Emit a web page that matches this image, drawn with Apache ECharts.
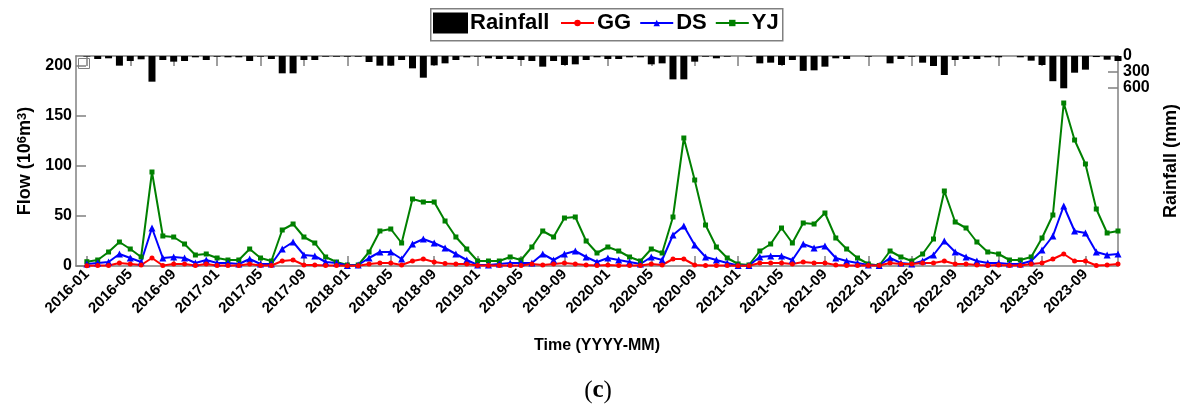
<!DOCTYPE html>
<html><head><meta charset="utf-8">
<script src="https://cdn.jsdelivr.net/npm/echarts@6/dist/echarts.min.js"></script>
<style>html,body{margin:0;padding:0;background:#fff}#c{width:1183px;height:407px}</style>
</head><body><div id="c"></div>
<script>
const months = [
'2016-01','2016-02','2016-03','2016-04','2016-05','2016-06','2016-07','2016-08','2016-09','2016-10','2016-11','2016-12',
'2017-01','2017-02','2017-03','2017-04','2017-05','2017-06','2017-07','2017-08','2017-09','2017-10','2017-11','2017-12',
'2018-01','2018-02','2018-03','2018-04','2018-05','2018-06','2018-07','2018-08','2018-09','2018-10','2018-11','2018-12',
'2019-01','2019-02','2019-03','2019-04','2019-05','2019-06','2019-07','2019-08','2019-09','2019-10','2019-11','2019-12',
'2020-01','2020-02','2020-03','2020-04','2020-05','2020-06','2020-07','2020-08','2020-09','2020-10','2020-11','2020-12',
'2021-01','2021-02','2021-03','2021-04','2021-05','2021-06','2021-07','2021-08','2021-09','2021-10','2021-11','2021-12',
'2022-01','2022-02','2022-03','2022-04','2022-05','2022-06','2022-07','2022-08','2022-09','2022-10','2022-11','2022-12',
'2023-01','2023-02','2023-03','2023-04','2023-05','2023-06','2023-07','2023-08','2023-09','2023-10','2023-11','2023-12'];
const tickMonths = ['2016-01','2016-05','2016-09','2017-01','2017-05','2017-09','2018-01','2018-05','2018-09',
'2019-01','2019-05','2019-09','2020-01','2020-05','2020-09','2021-01','2021-05','2021-09',
'2022-01','2022-05','2022-09','2023-01','2023-05','2023-09'];
const flowTicks = [0, 50, 100, 150, 200];
const rainOuterLabels = [0, 600];
const rainMiddleLabels = [300];
const rainMarkTicks = [300, 600];

const GG = [0.3,0.5,0.5,3,2,1,8,0.5,2,2,0.5,2,
 0.5,0.5,0.5,2,0.5,0.5,5,6,1,1,0.5,0.5,
 0.2,0.2,2,3,3,1,5,7,4,2.5,2,2,
 0.5,0.5,0.5,0.5,0.5,2,1,2,3,2,1,0.5,
 1,0.5,0.5,0.5,2,1,7,7,1,0.5,0.5,0.5,
 0.2,0.2,3,3,3,2,4,3,3,1,0.5,0.5,
 0.5,0.5,3,2,2,3,3,5,2,2,1,0.5,
 1,0.5,0.5,2,3,7,12,5,5,0.5,1,2];
const DS = [2,3,4,12,8,4,38,8,9,8,3,6,
 3,3,2,7,2,2,17,24,11,10,4,3,
 0.5,1,8,14,14,7,22,27,23,18,12,6,
 1,1,2,3,3,3,12,6,12,15,9,4,
 8,6,4,2,9,6,31,40,21,9,6,3,
 0.5,0.5,9,10,10,6,22,18,20,8,5,3,
 1,0.5,8,3,2,5,11,25,14,9,5,3,
 3,2,2,5,16,30,60,35,33,14,11,12];
const YJ = [4.3,6,14,24,17,9,94,30,29,22,11,12,
 8,6,6,17,8,5,36,42,29,23,9,4,
 1,1,14,35,37,23,67,64,64,45,29,17,
 5,5,5,9,6,19,35,29,48,49,25,13,
 19,15,9,5,17,13,49,128,86,41,19,8,
 2,1,15,22,38,23,43,42,53,28,17,8,
 2,0.5,15,9,5,12,27,75,44,38,24,14,
 12,6,6,9,28,51,163,126,102,57,33,35];
const rainfall = [10,57,44,184,95,63,489,76,108,95,25,76,
 13,25,25,95,13,57,330,330,76,76,13,13,
 13,13,114,184,184,76,235,413,178,140,76,25,
 13,44,57,57,76,95,203,95,171,159,76,25,
 57,57,25,25,159,140,445,445,108,13,44,13,
 0,13,140,127,171,76,283,273,203,44,57,0,
 13,0,140,57,13,127,190,362,76,57,57,25,
 25,0,25,89,171,480,615,318,260,20,70,95];

const tickIdx = tickMonths.map(m => months.indexOf(m));
const pairs = arr => arr.map((v, i) => [i, v]);
const FONT = 'Liberation Sans, Arial, sans-serif';
const GRAY = '#808080';
const bold = (size) => ({fontFamily: FONT, fontWeight: 'bold', fontSize: size, color: '#000'});
const RAIN_MAX = 4000;

const chart = echarts.init(document.getElementById('c'), null, {renderer: 'canvas'});
chart.setOption({
  animation: false,
  textStyle: {fontFamily: FONT},
  grid: {left: 76, right: 65, top: 56, bottom: 141, containLabel: false, outerBoundsMode: 'none'},
  legend: [
    {data: [{name: 'Rainfall', icon: 'rect'}], left: 433, top: 12, padding: 0, itemGap: 0, itemWidth: 35, itemHeight: 21,
     textStyle: Object.assign(bold(22), {padding: [0, 0, 0, -3]})},
    {data: ['GG', 'DS', 'YJ'], left: 560, top: 12, padding: 0, itemGap: 8, itemWidth: 33, itemHeight: 8,
     textStyle: Object.assign(bold(22), {padding: [0, 0, 0, -2]})}
  ],
  xAxis: [
    {type: 'value', min: -1, max: 95, position: 'bottom',
     axisLine: {show: true, onZero: false, lineStyle: {color: GRAY, width: 1.5}},
     axisTick: {show: true, inside: true, length: 10, customValues: tickIdx, lineStyle: {color: GRAY, width: 1.5}},
     axisLabel: Object.assign(bold(15), {customValues: tickIdx, rotate: 45, margin: 6,
       formatter: v => months[Math.round(v)]}),
     splitLine: {show: false},
     name: 'Time (YYYY-MM)', nameLocation: 'middle', nameGap: 72, nameTextStyle: bold(16)},
    {type: 'value', min: -1, max: 95, position: 'top',
     axisLine: {show: true, onZero: false, lineStyle: {color: GRAY, width: 1.5}},
     axisTick: {show: true, inside: true, length: 10, customValues: tickIdx, lineStyle: {color: GRAY, width: 1.5}},
     axisLabel: {show: false}, splitLine: {show: false}}
  ],
  yAxis: [
    {type: 'value', min: 0, max: 210, position: 'left',
     axisLine: {show: true, onZero: false, lineStyle: {color: GRAY, width: 1.5}},
     axisTick: {show: true, inside: true, length: 10, customValues: flowTicks, lineStyle: {color: GRAY, width: 1.5}},
     axisLabel: Object.assign(bold(16), {customValues: flowTicks, margin: 4}),
     splitLine: {show: false},
     name: 'Flow (10{s|6}m{s|3})', nameLocation: 'middle', nameRotate: 90, nameGap: 39,
     nameTextStyle: Object.assign(bold(18), {rich: {s: Object.assign(bold(13), {verticalAlign: 'top', lineHeight: 14})}})},
    {type: 'value', min: 0, max: RAIN_MAX, inverse: true, position: 'right',
     axisLine: {show: true, onZero: false, lineStyle: {color: GRAY, width: 1.5}},
     axisTick: {show: true, inside: true, length: 10, customValues: rainMarkTicks, lineStyle: {color: GRAY, width: 1.5}},
     axisLabel: Object.assign(bold(16), {customValues: rainOuterLabels, margin: 5, hideOverlap: false}),
     splitLine: {show: false},
     name: 'Rainfall (mm)', nameLocation: 'middle', nameRotate: 90, nameGap: 44, nameTextStyle: bold(18)},
    {type: 'value', min: 0, max: RAIN_MAX, inverse: true, position: 'right', offset: 0,
     axisLine: {show: false}, axisTick: {show: false}, splitLine: {show: false},
     axisLabel: Object.assign(bold(16), {customValues: rainMiddleLabels, margin: 5, hideOverlap: false})}
  ],
  series: [
    {name: 'Rainfall', type: 'bar', xAxisIndex: 0, yAxisIndex: 1, data: pairs(rainfall), barWidth: 7,
     itemStyle: {color: '#000'}, clip: true},
    {name: 'YJ', type: 'line', data: pairs(YJ), symbol: 'rect', symbolSize: 5,
     lineStyle: {color: '#008000', width: 2}, itemStyle: {color: '#008000'}},
    {name: 'DS', type: 'line', data: pairs(DS), symbol: 'triangle', symbolSize: 7,
     lineStyle: {color: '#0000ff', width: 2}, itemStyle: {color: '#0000ff'}},
    {name: 'GG', type: 'line', data: pairs(GG), symbol: 'circle', symbolSize: 5,
     lineStyle: {color: '#ff0000', width: 2}, itemStyle: {color: '#ff0000'}}
  ],
  graphic: [
    {type: 'rect', left: 430, top: 8, z: -1, shape: {width: 352, height: 32},
     style: {fill: '#fff', stroke: GRAY, lineWidth: 1.5}},
    {type: 'rect', left: 76, top: 56, shape: {width: 11, height: 10},
     style: {fill: 'none', stroke: GRAY, lineWidth: 1}},
    {type: 'text', x: 598, y: 391,
     style: {text: '{p|(}{b|c}{p|)}', align: 'center', verticalAlign: 'middle',
       rich: {p: {fontFamily: 'Liberation Serif, serif', fontSize: 25, fill: '#000'},
              b: {fontFamily: 'Liberation Serif, serif', fontSize: 25, fontWeight: 'bold', fill: '#000'}}}}
  ]
});
</script></body></html>
